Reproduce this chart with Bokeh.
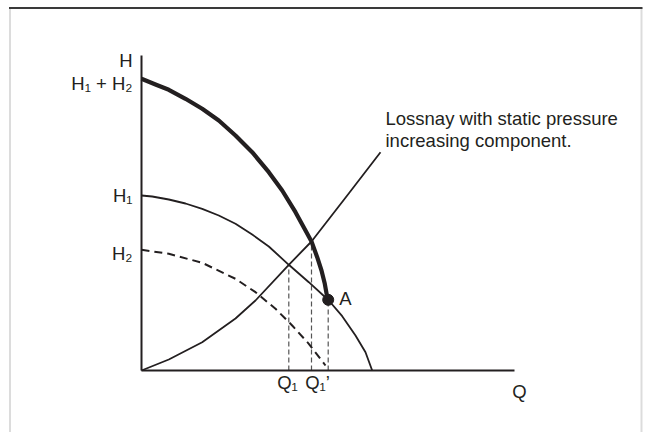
from bokeh.plotting import figure
from bokeh.models import LinearAxis, FixedTicker, BoxAnnotation
from bokeh.core.properties import value
from bokeh.embed import file_html
from bokeh.resources import INLINE

# Combined fan curve (H1 + H2), ending at operating point A
comb_q = [0, 0.14, 0.273, 0.44, 0.607, 0.773, 0.94, 1.107, 1.273, 1.407, 1.54, 1.64, 1.70, 1.757, 1.80, 1.833, 1.857, 1.867]
comb_h = [2.917, 2.86, 2.807, 2.717, 2.617, 2.50, 2.35, 2.183, 1.983, 1.80, 1.583, 1.40, 1.29, 1.133, 1.00, 0.867, 0.733, 0.707]

# Fan curve H1
h1_q = [0, 0.107, 0.273, 0.44, 0.607, 0.773, 0.94, 1.107, 1.273, 1.473, 1.673, 1.873, 2.007, 2.14, 2.24, 2.307]
h1_h = [1.75, 1.74, 1.71, 1.67, 1.617, 1.55, 1.467, 1.36, 1.24, 1.057, 0.883, 0.70, 0.543, 0.35, 0.183, 0.0]

# Fan curve H2 (dashed)
h2_q = [0, 0.273, 0.607, 0.94, 1.14, 1.34, 1.507, 1.673, 1.84]
h2_h = [1.207, 1.167, 1.077, 0.917, 0.783, 0.617, 0.45, 0.267, 0.05]

# System (duct resistance) curve
sys_q = [0, 0.273, 0.607, 0.94, 1.14, 1.473, 1.70, 2.057, 2.39]
sys_h = [0, 0.11, 0.283, 0.52, 0.70, 1.057, 1.29, 1.75, 2.183]

# Drop lines to Q axis
drop_q = [1.473, 1.70, 1.867]
drop_h = [1.057, 1.29, 0.707]

# Operating point A
pt_q = [1.867]
pt_h = [0.707]

# Axis extents and tick labels
q_axis_end = 3.73
h_axis_end = 3.15
y_ticks = [3.097, 2.87, 1.75, 1.173]
y_tick_labels = ["H", "H\u2081 + H\u2082", "H\u2081", "H\u2082"]
x_ticks = [1.46, 1.76]
x_tick_labels = ["Q\u2081", "Q\u2081\u2019"]

FONT = "Liberation Sans"
FS = "18.5px"
INK = "#231f20"

p = figure(width=645, height=432, x_range=(-1.41, 5.04), y_range=(-0.62, 3.70),
           output_backend="svg", toolbar_location=None, min_border=0,
           x_axis_location=None, y_axis_location=None)
p.grid.grid_line_color = None
p.outline_line_color = None
p.background_fill_color = "white"
p.border_fill_color = "white"

# outer frame: grey sides, dark top edge
p.add_layout(BoxAnnotation(left=-1.315, right=5.0, top=3.625, bottom=-2.0,
                           fill_color=None, line_color="#8a8a8a", line_width=2))
p.add_layout(BoxAnnotation(left=-1.325, right=5.01, top=3.635, bottom=3.615,
                           fill_color="#3a3a3a", fill_alpha=1.0, line_color=None))

xaxis = LinearAxis(fixed_location=0, bounds=(0, q_axis_end),
                   ticker=FixedTicker(ticks=x_ticks),
                   major_label_overrides=dict(zip(x_ticks, x_tick_labels)))
yaxis = LinearAxis(fixed_location=0, bounds=(0, h_axis_end),
                   ticker=FixedTicker(ticks=y_ticks),
                   major_label_overrides=dict(zip(y_ticks, y_tick_labels)))
for ax in (xaxis, yaxis):
    ax.axis_line_color = INK
    ax.axis_line_width = 2
    ax.major_tick_line_color = None
    ax.minor_tick_line_color = None
    ax.major_tick_out = 0
    ax.major_tick_in = 0
    ax.major_label_text_font = FONT
    ax.major_label_text_font_size = FS
    ax.major_label_text_color = INK
xaxis.major_label_standoff = 1
yaxis.major_label_standoff = 9
p.add_layout(xaxis, "below")
p.add_layout(yaxis, "left")

# drop lines
p.segment(x0=drop_q, y0=[0] * len(drop_q), x1=drop_q, y1=drop_h,
          line_color="#555555", line_width=1.2, line_dash="5 3")

# curves
p.line(sys_q, sys_h, line_color=INK, line_width=1.8, line_join="round")
p.line(h2_q, h2_h, line_color=INK, line_width=2, line_dash="8 5")
p.line(h1_q, h1_h, line_color=INK, line_width=1.8, line_join="round")
p.line(comb_q, comb_h, line_color=INK, line_width=4.2, line_join="round")
p.scatter(pt_q, pt_h, size=11, fill_color=INK, line_color=INK)

# texts
p.text(x=[2.04], y=[0.725], text=["A"], text_font=value(FONT), text_font_size=FS,
       text_color=INK, text_align="center", text_baseline="middle")
p.text(x=[3.78], y=[-0.21], text=["Q"], text_font=value(FONT), text_font_size=FS,
       text_color=INK, text_align="center", text_baseline="alphabetic")
p.text(x=[2.44, 2.44], y=[2.517, 2.305],
       text=["Lossnay with static pressure", "increasing component."],
       text_font=value(FONT), text_font_size=FS, text_color=INK,
       text_align="left", text_baseline="alphabetic")

open("out.html", "w").write(file_html(p, INLINE))
